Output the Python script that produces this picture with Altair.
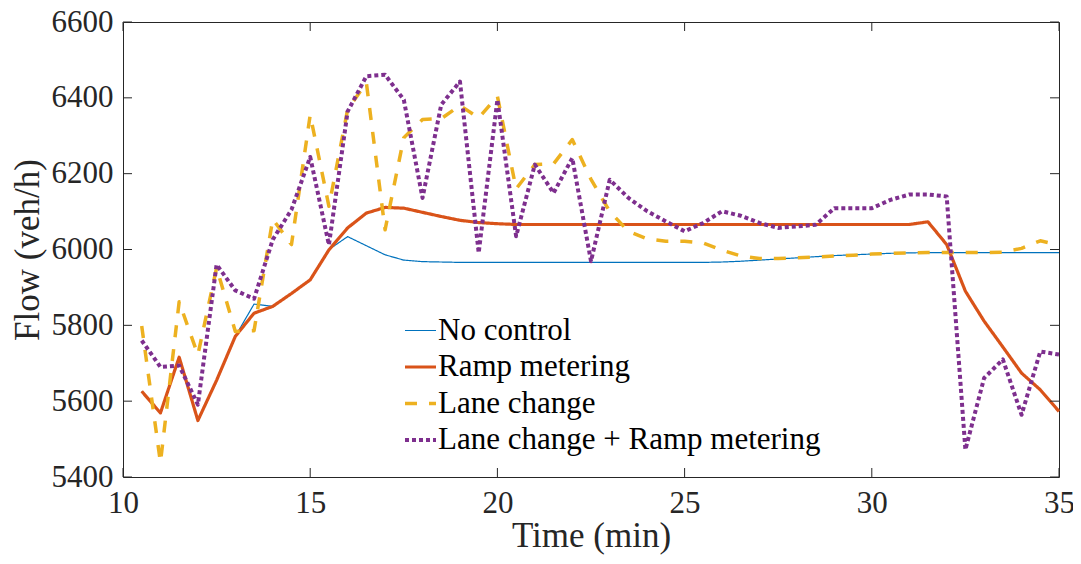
import altair as alt
import pandas as pd

time = [10.5, 11, 11.5, 12, 12.5, 13, 13.5, 14, 14.5, 15, 15.5, 16, 16.5, 17, 17.5,
        18, 18.5, 19, 19.5, 20, 20.5, 21, 21.5, 22, 22.5, 23, 23.5, 24, 24.5, 25,
        25.5, 26, 26.5, 27, 27.5, 28, 28.5, 29, 29.5, 30, 30.5, 31, 31.5, 32, 32.5,
        33, 33.5, 34, 34.5, 35]

no_control = [5626, 5569, 5716, 5549, 5655, 5771, 5856, 5850, 5884, 5920, 6000, 6034,
              6010, 5986, 5972, 5968, 5967, 5966, 5966, 5966, 5966, 5966, 5966, 5966,
              5966, 5966, 5966, 5966, 5966, 5966, 5966, 5967, 5969, 5972, 5975, 5978,
              5981, 5984, 5986, 5988, 5990, 5991, 5992, 5992, 5992, 5992, 5992, 5992,
              5992, 5992]

ramp_metering = [5626, 5569, 5716, 5549, 5655, 5771, 5832, 5850, 5884, 5920, 5999, 6057,
                 6096, 6111, 6109, 6098, 6087, 6077, 6071, 6068, 6066, 6066, 6066, 6066,
                 6066, 6066, 6066, 6066, 6066, 6066, 6066, 6066, 6066, 6066, 6066, 6066,
                 6066, 6066, 6066, 6066, 6066, 6066, 6073, 6013, 5890, 5811, 5743, 5674,
                 5630, 5573]

lane_change = [5798, 5438, 5862, 5722, 5952, 5784, 5786, 6080, 6013, 6355, 6114, 6369,
               6440, 6052, 6295, 6343, 6345, 6380, 6347, 6404, 6160, 6224, 6226, 6290,
               6185, 6100, 6048, 6028, 6022, 6022, 6017, 5998, 5983, 5976, 5976, 5978,
               5980, 5983, 5985, 5988, 5990, 5991, 5992, 5992, 5992, 5992, 5993, 6003,
               6023, 6012]

lane_change_ramp = [5760, 5690, 5694, 5591, 5960, 5892, 5870, 6026, 6105, 6244, 6012, 6364,
                    6457, 6461, 6395, 6136, 6382, 6443, 5991, 6395, 6035, 6224, 6149, 6241,
                    5969, 6184, 6136, 6101, 6074, 6048, 6070, 6101, 6089, 6070, 6057, 6061,
                    6065, 6109, 6109, 6109, 6131, 6145, 6145, 6140, 5472, 5661, 5710, 5564,
                    5731, 5723]

series_names = ["No control", "Ramp metering", "Lane change", "Lane change + Ramp metering"]
series_colors = ["#0072BD", "#D95319", "#EDB120", "#7E2F8E"]
series_dash = [[1, 0], [1, 0], [12, 12], [4, 3]]
series_width = [1.2, 3.2, 3.5, 4]

x_ticks = [10, 15, 20, 25, 30, 35]
y_ticks = [5400, 5600, 5800, 6000, 6200, 6400, 6600]

rows = []
for name, vals in zip(series_names, [no_control, ramp_metering, lane_change, lane_change_ramp]):
    for t, v in zip(time, vals):
        rows.append({"Time": t, "Flow": v, "Series": name})
df = pd.DataFrame(rows)
xt_df = pd.DataFrame({"Time": x_ticks})
yt_df = pd.DataFrame({"Flow": y_ticks})

W, H = 936, 455
TL = 9
FONT = "Liberation Serif"
AX = "#262626"

xscale = alt.Scale(domain=[10, 35], nice=False, zero=False)
yscale = alt.Scale(domain=[5400, 6600], nice=False, zero=False)

leg = alt.Legend(title=None, orient="none", legendX=280, legendY=292,
                 labelFont=FONT, labelFontSize=31, labelColor="#000000",
                 symbolType="stroke", symbolSize=961, labelOffset=0,
                 rowPadding=3.5, padding=0, labelLimit=600)

lines = alt.Chart(df).mark_line(strokeJoin="round", strokeCap="butt").encode(
    x=alt.X("Time:Q", scale=xscale,
            axis=alt.Axis(values=x_ticks, title="Time (min)", ticks=False, tickSize=0,
                          domain=False, grid=False, labelPadding=11, titlePadding=0,
                          labelFlush=False, format="d",
                          labelFont=FONT, labelFontSize=31, labelColor=AX,
                          titleFont=FONT, titleFontSize=35, titleColor=AX,
                          titleFontWeight="normal")),
    y=alt.Y("Flow:Q", scale=yscale,
            axis=alt.Axis(values=y_ticks, title="Flow (veh/h)", ticks=False, tickSize=0,
                          domain=False, grid=False, labelPadding=10, titlePadding=6,
                          labelFlush=False, format="d",
                          labelFont=FONT, labelFontSize=31, labelColor=AX,
                          titleFont=FONT, titleFontSize=35, titleColor=AX,
                          titleFontWeight="normal")),
    color=alt.Color("Series:N", scale=alt.Scale(domain=series_names, range=series_colors), legend=leg),
    strokeDash=alt.StrokeDash("Series:N", scale=alt.Scale(domain=series_names, range=series_dash), legend=leg),
    strokeWidth=alt.StrokeWidth("Series:N", scale=alt.Scale(type="ordinal", domain=series_names, range=series_width), legend=leg),
)

# inward tick marks on all four sides of the box
xt_bottom = alt.Chart(xt_df).mark_rule(color=AX, strokeWidth=1).encode(
    x=alt.X("Time:Q", scale=xscale, axis=None), y=alt.value(H - TL), y2=alt.value(H))
xt_top = alt.Chart(xt_df).mark_rule(color=AX, strokeWidth=1).encode(
    x=alt.X("Time:Q", scale=xscale, axis=None), y=alt.value(0), y2=alt.value(TL))
yt_left = alt.Chart(yt_df).mark_rule(color=AX, strokeWidth=1).encode(
    y=alt.Y("Flow:Q", scale=yscale, axis=None), x=alt.value(0), x2=alt.value(TL))
yt_right = alt.Chart(yt_df).mark_rule(color=AX, strokeWidth=1).encode(
    y=alt.Y("Flow:Q", scale=yscale, axis=None), x=alt.value(W - TL), x2=alt.value(W))

chart = alt.layer(lines, xt_bottom, xt_top, yt_left, yt_right).resolve_axis(
    x="independent", y="independent"
).properties(
    width=W, height=H,
    autosize=alt.AutoSizeParams(type="none"),
    padding={"left": 115, "top": 14, "right": 14, "bottom": 80},
    background="white",
).configure_view(stroke=AX, strokeWidth=1).configure_legend(
    labelFont=FONT, labelFontSize=31, labelColor="#000000"
)

chart.save("out.html", embed_options={"renderer": "svg", "actions": False})
